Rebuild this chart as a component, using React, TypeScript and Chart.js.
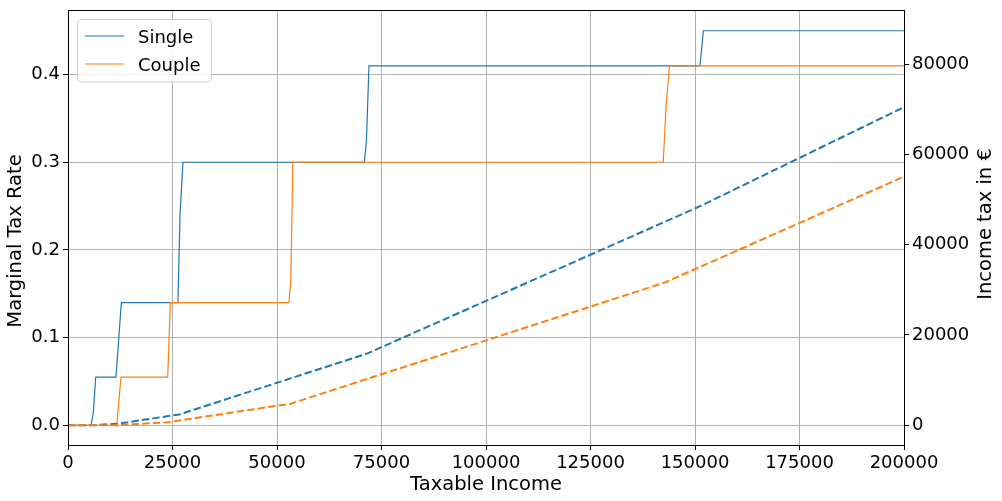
import React, { useEffect, useRef } from "react";
import { Chart, registerables } from "chart.js";

Chart.register(...registerables);

// Tick values
const xTicks = [0, 25000, 50000, 75000, 100000, 125000, 150000, 175000, 200000];
const rateTicks = [0, 0.1, 0.2, 0.3, 0.4];
const taxTicks = [0, 20000, 40000, 60000, 80000];

// Marginal tax rate (left axis)
const singleRateIncome = [0, 5500, 6050, 6630, 11480, 12760, 26300, 26800, 27500, 70900, 71400, 72000, 151200, 152000, 200000];
const singleRate = [0, 0, 0.014, 0.055, 0.055, 0.14, 0.14, 0.24, 0.3, 0.3, 0.325, 0.41, 0.41, 0.45, 0.45];

const coupleRateIncome = [0, 11650, 12680, 23850, 24480, 52870, 53300, 53800, 142400, 143100, 143900, 200000];
const coupleRate = [0, 0, 0.055, 0.055, 0.14, 0.14, 0.165, 0.3, 0.3, 0.365, 0.41, 0.41];

// Income tax in € (right axis)
const singleTaxIncome = [0, 6000, 12000, 26600, 71400, 151200, 200000];
const singleTax = [0, 0, 329, 2375, 15810, 48530, 70490];

const coupleTaxIncome = [0, 12000, 24000, 53300, 142800, 200000];
const coupleTax = [0, 0, 658, 4760, 31620, 55070];

const BLUE = "#1f77b4";
const ORANGE = "#ff7f0e";
const FONT = "'DejaVu Sans', sans-serif";

const toPts = (xs: number[], ys: number[]) => xs.map((x, i) => ({ x, y: ys[i] }));

const decorPlugin = {
  id: "decor",
  afterDraw(chart: any) {
    const ctx = chart.ctx as CanvasRenderingContext2D;
    const a = chart.chartArea;
    ctx.save();
    // frame
    ctx.strokeStyle = "#000";
    ctx.lineWidth = 1;
    ctx.strokeRect(Math.round(a.left) + 0.5, Math.round(a.top) - 0.5, Math.round(a.right - a.left), Math.round(a.bottom - a.top) + 1);

    // axis titles
    ctx.fillStyle = "#000";
    ctx.font = `19.5px ${FONT}`;
    ctx.textAlign = "center";
    ctx.textBaseline = "alphabetic";
    ctx.fillText("Taxable Income", (a.left + a.right) / 2, 490);

    ctx.save();
    ctx.translate(21, 241);
    ctx.rotate(-Math.PI / 2);
    ctx.fillText("Marginal Tax Rate", 0, 0);
    ctx.restore();

    ctx.save();
    ctx.translate(991, 224);
    ctx.rotate(-Math.PI / 2);
    ctx.fillText("Income tax in €", 0, 0);
    ctx.restore();

    // legend
    const bx = 77.5, by = 19.5, bw = 134, bh = 62.5, r = 4;
    ctx.beginPath();
    ctx.moveTo(bx + r, by);
    ctx.lineTo(bx + bw - r, by);
    ctx.arcTo(bx + bw, by, bx + bw, by + r, r);
    ctx.lineTo(bx + bw, by + bh - r);
    ctx.arcTo(bx + bw, by + bh, bx + bw - r, by + bh, r);
    ctx.lineTo(bx + r, by + bh);
    ctx.arcTo(bx, by + bh, bx, by + bh - r, r);
    ctx.lineTo(bx, by + r);
    ctx.arcTo(bx, by, bx + r, by, r);
    ctx.closePath();
    ctx.fillStyle = "rgba(255,255,255,0.8)";
    ctx.fill();
    ctx.strokeStyle = "#cccccc";
    ctx.stroke();

    const items = chart.data.datasets.filter((d: any) => d.inLegend);
    const rows = [36, 64];
    const baselines = [43, 71];
    ctx.font = `18px ${FONT}`;
    ctx.textAlign = "left";
    items.forEach((d: any, i: number) => {
      ctx.strokeStyle = d.borderColor;
      ctx.lineWidth = 1.2;
      ctx.beginPath();
      ctx.moveTo(85, rows[i]);
      ctx.lineTo(124, rows[i]);
      ctx.stroke();
      ctx.fillStyle = "#000";
      ctx.fillText(d.label, 138, baselines[i]);
    });
    ctx.restore();
  },
};

export default function App() {
  const ref = useRef<HTMLCanvasElement>(null);

  useEffect(() => {
    const gridCommon = { color: "#b0b0b0", lineWidth: 1, tickColor: "#000", tickLength: 5 };
    const tickFont = { family: FONT, size: 18 };
    const chart = new Chart(ref.current!, {
      type: "line",
      data: {
        datasets: [
          {
            label: "Single",
            inLegend: true,
            data: toPts(singleRateIncome, singleRate),
            borderColor: BLUE,
            borderWidth: 1.2,
            yAxisID: "y",
            order: 4,
          } as any,
          {
            label: "Couple",
            inLegend: true,
            data: toPts(coupleRateIncome, coupleRate),
            borderColor: ORANGE,
            borderWidth: 1.2,
            yAxisID: "y",
            order: 3,
          } as any,
          {
            label: "Single tax",
            data: toPts(singleTaxIncome, singleTax),
            borderColor: BLUE,
            borderWidth: 2,
            borderDash: [7.4, 3.2],
            yAxisID: "y1",
            order: 2,
          } as any,
          {
            label: "Couple tax",
            data: toPts(coupleTaxIncome, coupleTax),
            borderColor: ORANGE,
            borderWidth: 2,
            borderDash: [7.4, 3.2],
            yAxisID: "y1",
            order: 1,
          } as any,
        ],
      },
      options: {
        responsive: false,
        animation: false,
        devicePixelRatio: 1,
        layout: { padding: { top: 11, left: 0, right: 0, bottom: 0 } },
        plugins: { legend: { display: false }, tooltip: { enabled: false } },
        elements: { point: { radius: 0 }, line: { tension: 0, fill: false } },
        scales: {
          x: {
            type: "linear",
            min: 0,
            max: 200000,
            afterBuildTicks: (s: any) => {
              s.ticks = xTicks.map((v) => ({ value: v }));
            },
            afterFit: (s: any) => {
              s.height = 56;
              s.paddingLeft = 0;
              s.paddingRight = 0;
            },
            grid: gridCommon,
            border: { display: false },
            ticks: {
              font: tickFont,
              color: "#000",
              padding: 3,
              maxRotation: 0,
              autoSkip: false,
              callback: (v: any) => String(v),
            },
          },
          y: {
            type: "linear",
            position: "left",
            min: -0.0225,
            max: 0.4725,
            afterBuildTicks: (s: any) => {
              s.ticks = rateTicks.map((v) => ({ value: v }));
            },
            afterFit: (s: any) => {
              s.width = 68;
              s.paddingTop = 0;
              s.paddingBottom = 0;
            },
            grid: gridCommon,
            border: { display: false },
            ticks: {
              font: tickFont,
              color: "#000",
              padding: 3,
              callback: (v: any) => Number(v).toFixed(1),
            },
          },
          y1: {
            type: "linear",
            position: "right",
            min: -4400,
            max: 91800,
            afterBuildTicks: (s: any) => {
              s.ticks = taxTicks.map((v) => ({ value: v }));
            },
            afterFit: (s: any) => {
              s.width = 98;
              s.paddingTop = 0;
              s.paddingBottom = 0;
            },
            grid: { drawOnChartArea: false, tickColor: "#000", tickLength: 5 },
            border: { display: false },
            ticks: {
              font: tickFont,
              color: "#000",
              padding: 3,
              callback: (v: any) => String(v),
            },
          },
        },
      } as any,
      plugins: [decorPlugin],
    });
    return () => chart.destroy();
  }, []);

  return (
    <div style={{ position: "absolute", left: 0, top: 0, width: 1002, height: 501, background: "#fff" }}>
      <canvas ref={ref} width={1002} height={501} style={{ display: "block" }} />
    </div>
  );
}
